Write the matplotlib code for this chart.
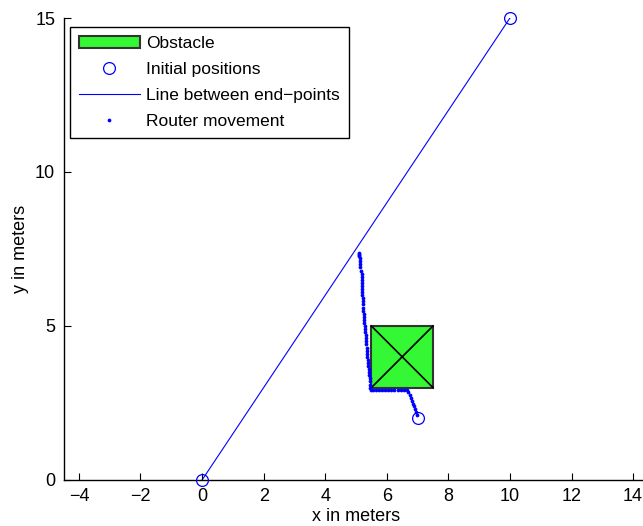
import matplotlib
matplotlib.use("Agg")
import matplotlib.pyplot as plt
from matplotlib.patches import Rectangle

plt.rcParams['font.family'] = ['Liberation Sans', 'DejaVu Sans']

# Obstacle (square) corners
obstacle_x = [5.5, 7.5]
obstacle_y = [3.0, 5.0]

# Initial node positions
init_x = [0, 10, 7]
init_y = [0, 15, 2]

# End-points of the connecting line
line_x = [0, 10]
line_y = [0, 15]

# Router trajectory, starting at (7, 2)
router_x = [6.98, 6.95, 6.92, 6.88, 6.85, 6.81, 6.78, 6.74, 6.70,
            6.65, 6.55, 6.45, 6.35, 6.25, 6.15, 6.05, 5.95, 5.85, 5.75, 5.65, 5.55,
            5.50, 5.47, 5.46, 5.45, 5.44, 5.43, 5.42, 5.41, 5.40, 5.39, 5.38,
            5.37, 5.37, 5.36, 5.35, 5.34, 5.33, 5.32, 5.31, 5.30, 5.29, 5.28,
            5.27, 5.26, 5.25, 5.25, 5.24, 5.23, 5.23, 5.22, 5.22, 5.21, 5.21,
            5.20, 5.20, 5.20, 5.19, 5.19, 5.18, 5.15, 5.14, 5.13, 5.13, 5.12,
            5.11, 5.10, 5.10, 5.10]
router_y = [2.12, 2.21, 2.30, 2.39, 2.48, 2.57, 2.66, 2.75, 2.85,
            2.92, 2.92, 2.92, 2.92, 2.92, 2.92, 2.92, 2.92, 2.92, 2.92, 2.92, 2.92,
            2.93, 3.00, 3.10, 3.20, 3.30, 3.40, 3.50, 3.60, 3.70, 3.80, 3.90,
            4.00, 4.10, 4.20, 4.30, 4.40, 4.50, 4.60, 4.70, 4.80, 4.90, 5.00,
            5.10, 5.20, 5.30, 5.40, 5.50, 5.60, 5.70, 5.80, 5.90, 6.00, 6.10,
            6.20, 6.30, 6.40, 6.50, 6.60, 6.70, 6.80, 6.90, 7.00, 7.10, 7.20,
            7.26, 7.30, 7.33, 7.36]

xticks = [-4, -2, 0, 2, 4, 6, 8, 10, 12, 14]
yticks = [0, 5, 10, 15]

fig = plt.figure(figsize=(6.43, 5.26), dpi=100)
ax = fig.add_axes([63.5 / 643, 46 / 526, 585 / 643, 462 / 526])

blue = (0, 0, 1)

# Obstacle with crossed diagonals
ox0, ox1 = obstacle_x
oy0, oy1 = obstacle_y
obs = Rectangle((ox0, oy0), ox1 - ox0, oy1 - oy0, facecolor='#33f833',
                edgecolor='#333333', linewidth=1.5, zorder=2, label='Obstacle')
ax.add_patch(obs)
ax.plot([ox0, ox1], [oy0, oy1], color='black', lw=1.2, zorder=3)
ax.plot([ox0, ox1], [oy1, oy0], color='black', lw=1.2, zorder=3)

ax.plot(init_x, init_y, 'o', mfc='none', mec=blue, ms=8.5, mew=0.9,
        zorder=4, label='Initial positions', clip_on=False)
ax.plot(line_x, line_y, '-', color=blue, lw=0.8, zorder=1,
        label='Line between end\u2212points')
ax.plot(router_x, router_y, 'o', color=blue, ms=2.7, mew=0, zorder=5,
        label='Router movement')

ax.set_xlim(-4.5, 14.5)
ax.set_ylim(0, 15)
ax.set_xticks(xticks)
ax.set_yticks(yticks)
ax.set_xticklabels([str(t).replace('-', '\u2212') for t in xticks])
ax.tick_params(direction='in', length=5, width=0.8, labelsize=13, pad=6)
for s in ['top', 'right']:
    ax.spines[s].set_visible(False)
for s in ['left', 'bottom']:
    ax.spines[s].set_linewidth(1.0)

ax.set_xlabel('x in meters', fontsize=13, labelpad=2)
ax.set_ylabel('y in meters', fontsize=13, labelpad=4)

leg = ax.legend(loc='upper left', bbox_to_anchor=(70 / 643, 1 - 27 / 526),
                bbox_transform=fig.transFigure, borderaxespad=0,
                fontsize=12.5, frameon=True, fancybox=False, edgecolor='black',
                framealpha=1, handlelength=3.5, handletextpad=0.35,
                labelspacing=0.62, borderpad=0.52, markerscale=1.0)
leg.get_frame().set_linewidth(1.0)
leg.legend_handles[3].set_markersize(2.7)

fig.savefig('out.png', dpi=100)
